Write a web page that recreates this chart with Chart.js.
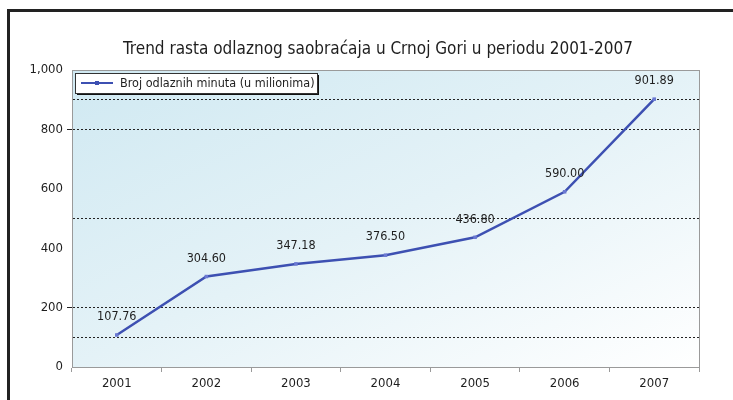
<!DOCTYPE html>
<html>
<head>
<meta charset="utf-8">
<script src="https://cdn.jsdelivr.net/npm/chart.js@4/dist/chart.umd.min.js"></script>
<style>
  html, body { margin: 0; padding: 0; background: #fff; }
  #wrap { width: 733px; height: 400px; }
</style>
</head>
<body>
<div id="wrap"><canvas id="myChart" width="733" height="400"></canvas></div>
<script>
// podaci sa grafika
var godine = ["2001", "2002", "2003", "2004", "2005", "2006", "2007"];
var minuti = [107.76, 304.60, 347.18, 376.50, 436.80, 590.00, 901.89];
var naslov = "Trend rasta odlaznog saobraćaja u Crnoj Gori u periodu 2001-2007";
var nazivSerije = "Broj odlaznih minuta (u milionima)";
var linijeMreze = [100, 200, 500, 800, 900]; // isprekidane linije
var crtice = [200, 800];

var FONT = "'Liberation Sans Narrow', 'Arial Narrow', 'DejaVu Sans Condensed', sans-serif";
var plava = "#3d50b2";

// okvir, pozadina, naslov, legenda i vrijednosti
var dodaci = {
  id: "dodaci",
  beforeDraw: function (chart) {
    var ctx = chart.ctx, a = chart.chartArea;
    var w = a.right - a.left, h = a.bottom - a.top;
    ctx.save();
    ctx.fillStyle = "#fff";
    ctx.fillRect(0, 0, chart.width, chart.height);
    ctx.strokeStyle = "#222";
    ctx.lineWidth = 3;
    ctx.strokeRect(8.5, 10.5, chart.width + 20, chart.height + 20);
    ctx.save();
    ctx.translate(a.left, a.top);
    ctx.scale(w, h);
    var g = ctx.createLinearGradient(0, 0, 1, 1);
    g.addColorStop(0, "#d0e9f2");
    g.addColorStop(0.5, "#e4f2f7");
    g.addColorStop(1, "#ffffff");
    ctx.fillStyle = g;
    ctx.fillRect(0, 0, 1, 1);
    ctx.restore();
    ctx.strokeStyle = "#9a9a9a";
    ctx.lineWidth = 1;
    ctx.strokeRect(a.left + 0.5, a.top + 0.5, w, h);

    ctx.font = "17px " + FONT;
    ctx.fillStyle = "#1e1e1e";
    ctx.textAlign = "center";
    ctx.textBaseline = "middle";
    ctx.fillText(naslov, 378, 50);
    ctx.restore();
  },
  afterDatasetsDraw: function (chart) {
    var ctx = chart.ctx;
    var meta = chart.getDatasetMeta(0);
    ctx.save();
    ctx.font = "12.5px " + FONT;
    ctx.fillStyle = "#1e1e1e";
    ctx.textAlign = "center";
    ctx.textBaseline = "middle";
    meta.data.forEach(function (p, i) {
      ctx.fillText(minuti[i].toFixed(2), p.x, p.y - 18);
    });

    // legenda
    var x = 75, y = 73, w = 242, h = 20;
    ctx.fillStyle = "#111";
    ctx.fillRect(x + 2, y + 2, w, h);
    ctx.fillStyle = "#fff";
    ctx.fillRect(x, y, w, h);
    ctx.strokeStyle = "#333";
    ctx.lineWidth = 1;
    ctx.strokeRect(x + 0.5, y + 0.5, w, h);
    ctx.strokeStyle = plava;
    ctx.lineWidth = 2;
    ctx.beginPath();
    ctx.moveTo(81, 83);
    ctx.lineTo(113, 83);
    ctx.stroke();
    ctx.fillStyle = plava;
    ctx.fillRect(95, 81, 4, 4);
    ctx.fillStyle = "#1e1e1e";
    ctx.textAlign = "left";
    ctx.fillText(nazivSerije, 120, 84);
    ctx.restore();
  }
};

new Chart("myChart", {
  type: "line",
  data: {
    labels: godine,
    datasets: [{
      label: nazivSerije,
      data: minuti,
      borderColor: plava,
      borderWidth: 2.5,
      backgroundColor: "#6b79d2",
      pointStyle: "rect",
      pointRadius: 2.5,
      pointBorderWidth: 0,
      tension: 0
    }]
  },
  options: {
    responsive: false,
    animation: false,
    layout: { padding: { top: 70, right: 34, left: 0, bottom: 0 } },
    plugins: {
      legend: { display: false },
      tooltip: { enabled: false },
      title: { display: false }
    },
    scales: {
      x: {
        offset: true,
        grid: {
          offset: true,
          drawOnChartArea: false,
          color: "#9a9a9a",
          tickLength: 5
        },
        border: { color: "#9a9a9a" },
        ticks: {
          color: "#1e1e1e",
          padding: 4,
          font: { family: FONT, size: 13 }
        },
        afterFit: function (s) { s.height = 33; }
      },
      y: {
        min: 0,
        max: 1000,
        grid: {
          color: function (c) {
            return linijeMreze.indexOf(c.tick.value) >= 0 ? "#222" : "rgba(0,0,0,0)";
          },
          tickColor: function (c) {
            return crtice.indexOf(c.tick.value) >= 0 ? "#222" : "rgba(0,0,0,0)";
          },
          tickLength: 5,
          lineWidth: 1
        },
        border: { color: "#9a9a9a", dash: [2, 2] },
        ticks: {
          stepSize: 100,
          autoSkip: false,
          color: "#1e1e1e",
          padding: 4,
          font: { family: FONT, size: 13 },
          callback: function (v) {
            return v % 200 === 0 ? v.toLocaleString("en-US") : "";
          }
        },
        afterFit: function (s) { s.width = 72; }
      }
    }
  },
  plugins: [dodaci]
});
</script>
</body>
</html>
